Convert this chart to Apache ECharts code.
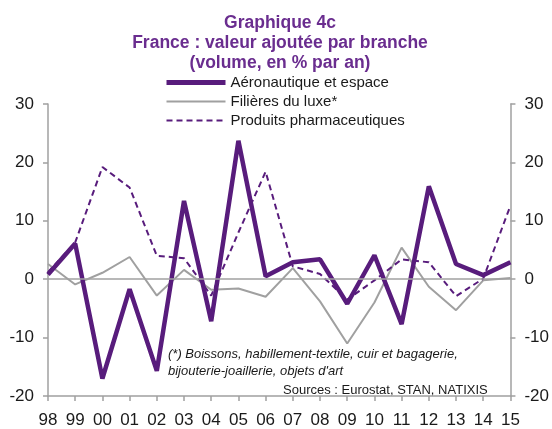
<!DOCTYPE html>
<html><head><meta charset="utf-8">
<script src="https://cdn.jsdelivr.net/npm/echarts@6/dist/echarts.min.js"></script>
<style>html,body{margin:0;padding:0;background:#fff}#c{width:552px;height:429px}</style>
</head><body><div id="c"></div>
<script>
const years = ['98','99','00','01','02','03','04','05','06','07','08','09','10','11','12','13','14','15'];
const aero = [0.8, 6.1, -17.0, -1.7, -15.7, 13.4, -7.2, 23.7, 0.5, 2.9, 3.4, -4.2, 4.1, -7.7, 15.9, 2.6, 0.7, 2.9];
const luxe = [2.6, -0.9, 1.1, 3.8, -2.8, 1.6, -1.8, -1.6, -3.0, 1.9, -3.8, -11.0, -4.0, 5.4, -1.3, -5.3, -0.2, 0.2];
const pharma = [1.2, 6.3, 19.2, 15.7, 4.0, 3.6, -2.8, 8.0, 18.4, 2.2, 0.9, -3.5, -0.2, 3.4, 2.9, -2.9, 0.1, 12.6];
const yTicks = {min: -20, max: 30, interval: 10};

const purple = '#581c7c';
const gray = '#a0a0a0';
const font = 'Liberation Sans, Arial, sans-serif';
const chart = echarts.init(document.getElementById('c'));
const yAxisBase = {
  type: 'value', min: yTicks.min, max: yTicks.max, interval: yTicks.interval,
  splitLine: {show: false},
  axisLine: {show: true, lineStyle: {color: gray, width: 1.5}},
  axisTick: {show: true, length: 5, lineStyle: {color: gray, width: 1.5}},
  axisLabel: {color: '#1a1a1a', fontSize: 17, fontFamily: font, margin: 14}
};
chart.setOption({
  animation: false,
  title: {
    text: 'Graphique 4c\nFrance : valeur ajoutée par branche\n(volume, en % par an)',
    left: 275, textAlign: 'center', top: 8,
    textStyle: {color: '#6a2d8f', fontSize: 17.5, fontWeight: 'bold', fontFamily: font, lineHeight: 20}
  },
  legend: {
    orient: 'vertical', left: 159, top: 70, itemWidth: 59, itemHeight: 14, itemGap: 4,
    itemStyle: {opacity: 0},
    textStyle: {color: '#1a1a1a', fontSize: 15, fontFamily: font},
    data: [
      {name: 'Aéronautique et espace', lineStyle: {width: 5}},
      {name: 'Filières du luxe*'},
      {name: 'Produits pharmaceutiques'}
    ]
  },
  grid: {left: 48, right: 41, top: 104, bottom: 25, containLabel: false},
  xAxis: {
    type: 'category', data: years, boundaryGap: false,
    axisLine: {onZero: false, lineStyle: {color: gray, width: 1.5}},
    axisTick: {show: true, length: 5, lineStyle: {color: gray, width: 1.5}},
    axisLabel: {color: '#1a1a1a', fontSize: 17, fontFamily: font, margin: 16, interval: 0}
  },
  yAxis: [Object.assign({}, yAxisBase, {position: 'left'}), Object.assign({}, yAxisBase, {position: 'right'})],
  graphic: [
    {type: 'text', left: 168, top: 346, style: {text: "(*) Boissons, habillement-textile, cuir et bagagerie,\nbijouterie-joaillerie, objets d'art", fontSize: 13, fontStyle: 'italic', fontFamily: font, fill: '#1a1a1a', lineHeight: 17}},
    {type: 'text', left: 283, top: 384, style: {text: 'Sources : Eurostat, STAN, NATIXIS', fontSize: 13, fontFamily: font, fill: '#1a1a1a'}}
  ],
  series: [
    {name: 'Filières du luxe*', type: 'line', data: luxe, symbol: 'none', z: 2,
     lineStyle: {color: gray, width: 2}, itemStyle: {color: gray},
     markLine: {silent: true, symbol: 'none', label: {show: false}, lineStyle: {color: gray, width: 1.5, type: 'solid'}, data: [{yAxis: 0}]}},
    {name: 'Produits pharmaceutiques', type: 'line', data: pharma, symbol: 'none', z: 3,
     lineStyle: {color: purple, width: 2, type: [6, 4]}, itemStyle: {color: purple}},
    {name: 'Aéronautique et espace', type: 'line', data: aero, symbol: 'none', z: 4,
     lineStyle: {color: purple, width: 4.5}, itemStyle: {color: purple}}
  ]
});
</script></body></html>
